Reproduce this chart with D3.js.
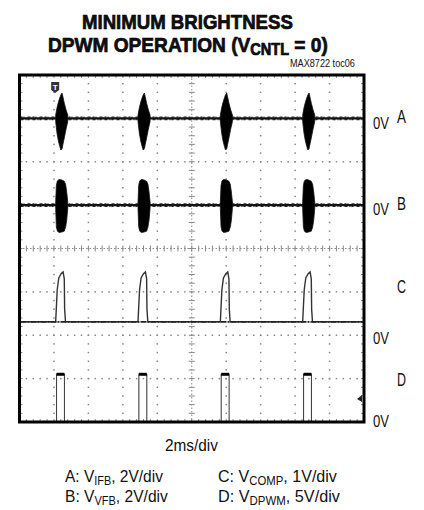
<!DOCTYPE html>
<html>
<head>
<meta charset="utf-8">
<script src="https://cdn.jsdelivr.net/npm/d3@7"></script>
<style>
body { margin: 0; background: #fff; }
text { font-family: "Liberation Sans", Arial, sans-serif; fill: #111; }
</style>
</head>
<body>
<div id="chart"></div>
<script>
// scope settings: 10 div x 2ms, 8 div vertical
var channels = ["A", "B", "C", "D"],
    voltsPerDiv = [2, 2, 1, 5],
    zeroDiv = [3, 1, -2, -4];   // where each channel's 0V marker sits (div from centre)

// pulse start times (ms)
var pulseStarts = [2.1, 6.88, 11.66, 16.44];

// A: V_IFB burst envelope (ms after start, volts)
var burstA_t  = [0, 0.08, 0.16, 0.24, 0.3, 0.37, 0.42, 0.5, 0.6, 0.7],
    burstA_hi = [0.15, 0.5, 0.75, 0.95, 1.08, 1.17, 1.0, 0.7, 0.4, 0.15],
    burstA_lo = [-0.15, -0.7, -1.05, -1.3, -1.46, -1.4, -1.2, -0.9, -0.5, -0.15];

// B: V_VFB burst envelope
var burstB_t  = [0, 0.04, 0.1, 0.2, 0.35, 0.5, 0.58, 0.64, 0.7],
    burstB_hi = [0.15, 0.9, 1.12, 1.18, 1.16, 1.1, 0.95, 0.6, 0.15],
    burstB_lo = [-0.15, -1.0, -1.2, -1.26, -1.24, -1.2, -1.0, -0.7, -0.15];

// C: V_COMP pulse
var compBase = 0.31,
    pulseC_t = [0, 0.09, 0.18, 0.32, 0.43, 0.5, 0.52, 0.57],
    pulseC_v = [0.31, 1.05, 1.32, 1.42, 1.46, 1.3, 0.6, 0.31];

// D: V_DPWM pulse
var pulseD_t = [0.05, 0.51],
    pulseD_high = 5.5;

var W = 424, H = 510;
var plot = {left: 19.5, right: 364, top: 75, bottom: 422};

var svg = d3.select("#chart").append("svg")
    .attr("width", W)
    .attr("height", H);

var x = d3.scaleLinear().domain([0, 20]).range([plot.left, plot.right]);
var yDiv = d3.scaleLinear().domain([4, -4]).range([plot.top, plot.bottom]);

function y(ch, v) {
    var i = channels.indexOf(ch);
    return yDiv(zeroDiv[i] + v / voltsPerDiv[i]);
}

// squeeze a text into the width it has on the scope print
function fit(t, left, width) {
    var w = t.node().getComputedTextLength();
    t.attr("x", 0).attr("transform", "translate(" + left + ",0) scale(" + (width / w) + ",1)");
    return t;
}

// grid
var grid = svg.append("g").attr("fill", "#888");
var divW = (plot.right - plot.left) / 10, divH = (plot.bottom - plot.top) / 8;

d3.range(1, 10).forEach(function(i) {
    if (i == 5) return;
    d3.range(1, 40).forEach(function(k) {
        grid.append("rect")
            .attr("x", plot.left + i * divW - 0.75)
            .attr("y", plot.top + k * divH / 5 - 0.75)
            .attr("width", 1.5).attr("height", 1.5);
    })
})
d3.range(1, 8).forEach(function(j) {
    if (j == 4) return;
    d3.range(1, 50).forEach(function(k) {
        grid.append("rect")
            .attr("x", plot.left + k * divW / 5 - 0.75)
            .attr("y", plot.top + j * divH - 0.75)
            .attr("width", 1.5).attr("height", 1.5);
    })
})

// centre lines with minor ticks
var cx = plot.left + 5 * divW, cy = plot.top + 4 * divH;
var ticks = svg.append("g").attr("stroke", "#888").attr("stroke-width", 1);
ticks.append("line").attr("x1", cx).attr("x2", cx).attr("y1", plot.top).attr("y2", plot.bottom)
    .attr("stroke-dasharray", "1.5,2");
ticks.append("line").attr("y1", cy).attr("y2", cy).attr("x1", plot.left).attr("x2", plot.right)
    .attr("stroke-dasharray", "1.5,2");
d3.range(1, 40).forEach(function(k) {
    var yy = plot.top + k * divH / 5;
    ticks.append("line").attr("x1", cx - 3).attr("x2", cx + 3).attr("y1", yy).attr("y2", yy);
    ticks.append("line").attr("x1", plot.left).attr("x2", plot.left + 3).attr("y1", yy).attr("y2", yy);
    ticks.append("line").attr("x1", plot.right - 3).attr("x2", plot.right).attr("y1", yy).attr("y2", yy);
})
d3.range(1, 50).forEach(function(k) {
    var xx = plot.left + k * divW / 5;
    ticks.append("line").attr("y1", cy - 3).attr("y2", cy + 3).attr("x1", xx).attr("x2", xx);
    ticks.append("line").attr("y1", plot.top).attr("y2", plot.top + 3).attr("x1", xx).attr("x2", xx);
    ticks.append("line").attr("y1", plot.bottom - 3).attr("y2", plot.bottom).attr("x1", xx).attr("x2", xx);
})

var line = d3.line().x(function(d) {return d[0]}).y(function(d) {return d[1]});

// A and B: noisy baseline + bursts
function burstChannel(ch, ts, hi, lo) {
    var y0 = y(ch, 0);
    svg.append("line")
        .attr("x1", x(0) + 1).attr("x2", x(20) - 1)
        .attr("y1", y0).attr("y2", y0)
        .attr("stroke", "#111").attr("stroke-width", 2.4);
    // rough edge of the trace
    svg.append("line")
        .attr("x1", x(0) + 1).attr("x2", x(20) - 1)
        .attr("y1", y0 - 1.2).attr("y2", y0 - 1.2)
        .attr("stroke", "#222").attr("stroke-width", 1.2).attr("stroke-dasharray", "2,1,1,3,3,2");
    svg.append("line")
        .attr("x1", x(0) + 1).attr("x2", x(20) - 1)
        .attr("y1", y0 + 1.2).attr("y2", y0 + 1.2)
        .attr("stroke", "#222").attr("stroke-width", 1.2).attr("stroke-dasharray", "3,2,1,1,2,3");
    var area = d3.area()
        .x(function(d) {return d[0]})
        .y0(function(d) {return d[1]})
        .y1(function(d) {return d[2]});
    pulseStarts.forEach(function(s) {
        var pts = ts.map(function(t, i) {return [x(s + t), y(ch, hi[i]), y(ch, lo[i])]});
        svg.append("path").attr("d", area(pts))
            .attr("fill", "#000").attr("stroke", "#111").attr("stroke-width", 0.8);
    })
}
burstChannel("A", burstA_t, burstA_hi, burstA_lo);
burstChannel("B", burstB_t, burstB_hi, burstB_lo);

// C
var cPts = [[x(0) + 1, y("C", compBase)]];
pulseStarts.forEach(function(s) {
    pulseC_t.forEach(function(t, i) {cPts.push([x(s + t), y("C", pulseC_v[i])])});
})
cPts.push([x(20) - 1, y("C", compBase)]);
svg.append("path").attr("d", line(cPts))
    .attr("fill", "none").attr("stroke", "#333").attr("stroke-width", 1.4);
svg.append("line")
    .attr("x1", x(0) + 1).attr("x2", x(20) - 1)
    .attr("y1", y("C", compBase)).attr("y2", y("C", compBase))
    .attr("stroke", "#222").attr("stroke-width", 1.8).attr("stroke-dasharray", "6,1,2,1");

// D
pulseStarts.forEach(function(s) {
    var x0 = x(s + pulseD_t[0]), x1 = x(s + pulseD_t[1]),
        yTop = y("D", pulseD_high), y0 = y("D", 0);
    svg.append("path").attr("d", line([[x0, y0], [x0, yTop], [x1, yTop], [x1, y0]]))
        .attr("fill", "none").attr("stroke", "#444").attr("stroke-width", 1.1);
    svg.append("line").attr("x1", x0).attr("x2", x1).attr("y1", yTop).attr("y2", yTop)
        .attr("stroke", "#000").attr("stroke-width", 3);
})

// trigger markers
var tx = x(pulseStarts[0]) - 0.5, ty = 87;
svg.append("path")
    .attr("d", "M" + (tx - 4) + "," + (ty - 5) + "h8v8l-4,3l-4,-3z")
    .attr("fill", "#333");
svg.append("text").attr("x", tx).attr("y", ty + 2.5)
    .attr("text-anchor", "middle").attr("font-size", 8).attr("font-weight", "bold")
    .style("fill", "#fff").text("T");
svg.append("path")
    .attr("d", "M" + (plot.right - 2) + ",395l-5,4l5,3z")
    .attr("fill", "#222");

// frame
svg.append("rect")
    .attr("x", plot.left).attr("y", plot.top)
    .attr("width", plot.right - plot.left).attr("height", plot.bottom - plot.top)
    .attr("fill", "none").attr("stroke", "#000").attr("stroke-width", 3);

// titles
var t1 = svg.append("text").attr("y", 29)
    .attr("font-size", 21).attr("font-weight", "bold")
    .style("stroke", "#000").style("stroke-width", 0.7)
    .text("MINIMUM BRIGHTNESS");
fit(t1, 82, 211);
var t2 = svg.append("text").attr("y", 52)
    .attr("font-size", 21).attr("font-weight", "bold")
    .style("stroke", "#000").style("stroke-width", 0.7);
t2.append("tspan").text("DPWM OPERATION (V");
t2.append("tspan").attr("font-size", 16).attr("dy", 3).text("CNTL");
t2.append("tspan").attr("dy", -3).text(" = 0)");
fit(t2, 48, 280);

fit(svg.append("text").attr("y", 67).attr("font-size", 10.5).text("MAX8722 toc06"), 290, 65);

// channel labels on the right
var labels = [
    {t: "0V", x: 373, y: 129, s: 17, w: 16}, {t: "A", x: 397, y: 123, s: 19, w: 9},
    {t: "0V", x: 373, y: 215, s: 17, w: 16}, {t: "B", x: 397, y: 210, s: 19, w: 9},
    {t: "C", x: 397, y: 293, s: 19, w: 9}, {t: "0V", x: 373, y: 344, s: 17, w: 16},
    {t: "D", x: 397, y: 386, s: 19, w: 9}, {t: "0V", x: 373, y: 427, s: 17, w: 16}
];
labels.forEach(function(d) {
    fit(svg.append("text").attr("y", d.y).attr("font-size", d.s).text(d.t), d.x, d.w);
})

fit(svg.append("text").attr("y", 451).attr("font-size", 17).text("2ms/div"), 165, 53);

// legend
var legend = [
    {ch: "A: V", sub: "IFB", rest: ", 2V/div", x: 65, y: 482, w: 98},
    {ch: "C: V", sub: "COMP", rest: ", 1V/div", x: 218, y: 482, w: 119},
    {ch: "B: V", sub: "VFB", rest: ", 2V/div", x: 65, y: 502, w: 103},
    {ch: "D: V", sub: "DPWM", rest: ", 5V/div", x: 218, y: 502, w: 122}
];
legend.forEach(function(d) {
    var t = svg.append("text").attr("y", d.y).attr("font-size", 17);
    t.append("tspan").text(d.ch);
    t.append("tspan").attr("font-size", 12).attr("dy", 3).text(d.sub);
    t.append("tspan").attr("dy", -3).text(d.rest);
    fit(t, d.x, d.w);
})
</script>
</body>
</html>
